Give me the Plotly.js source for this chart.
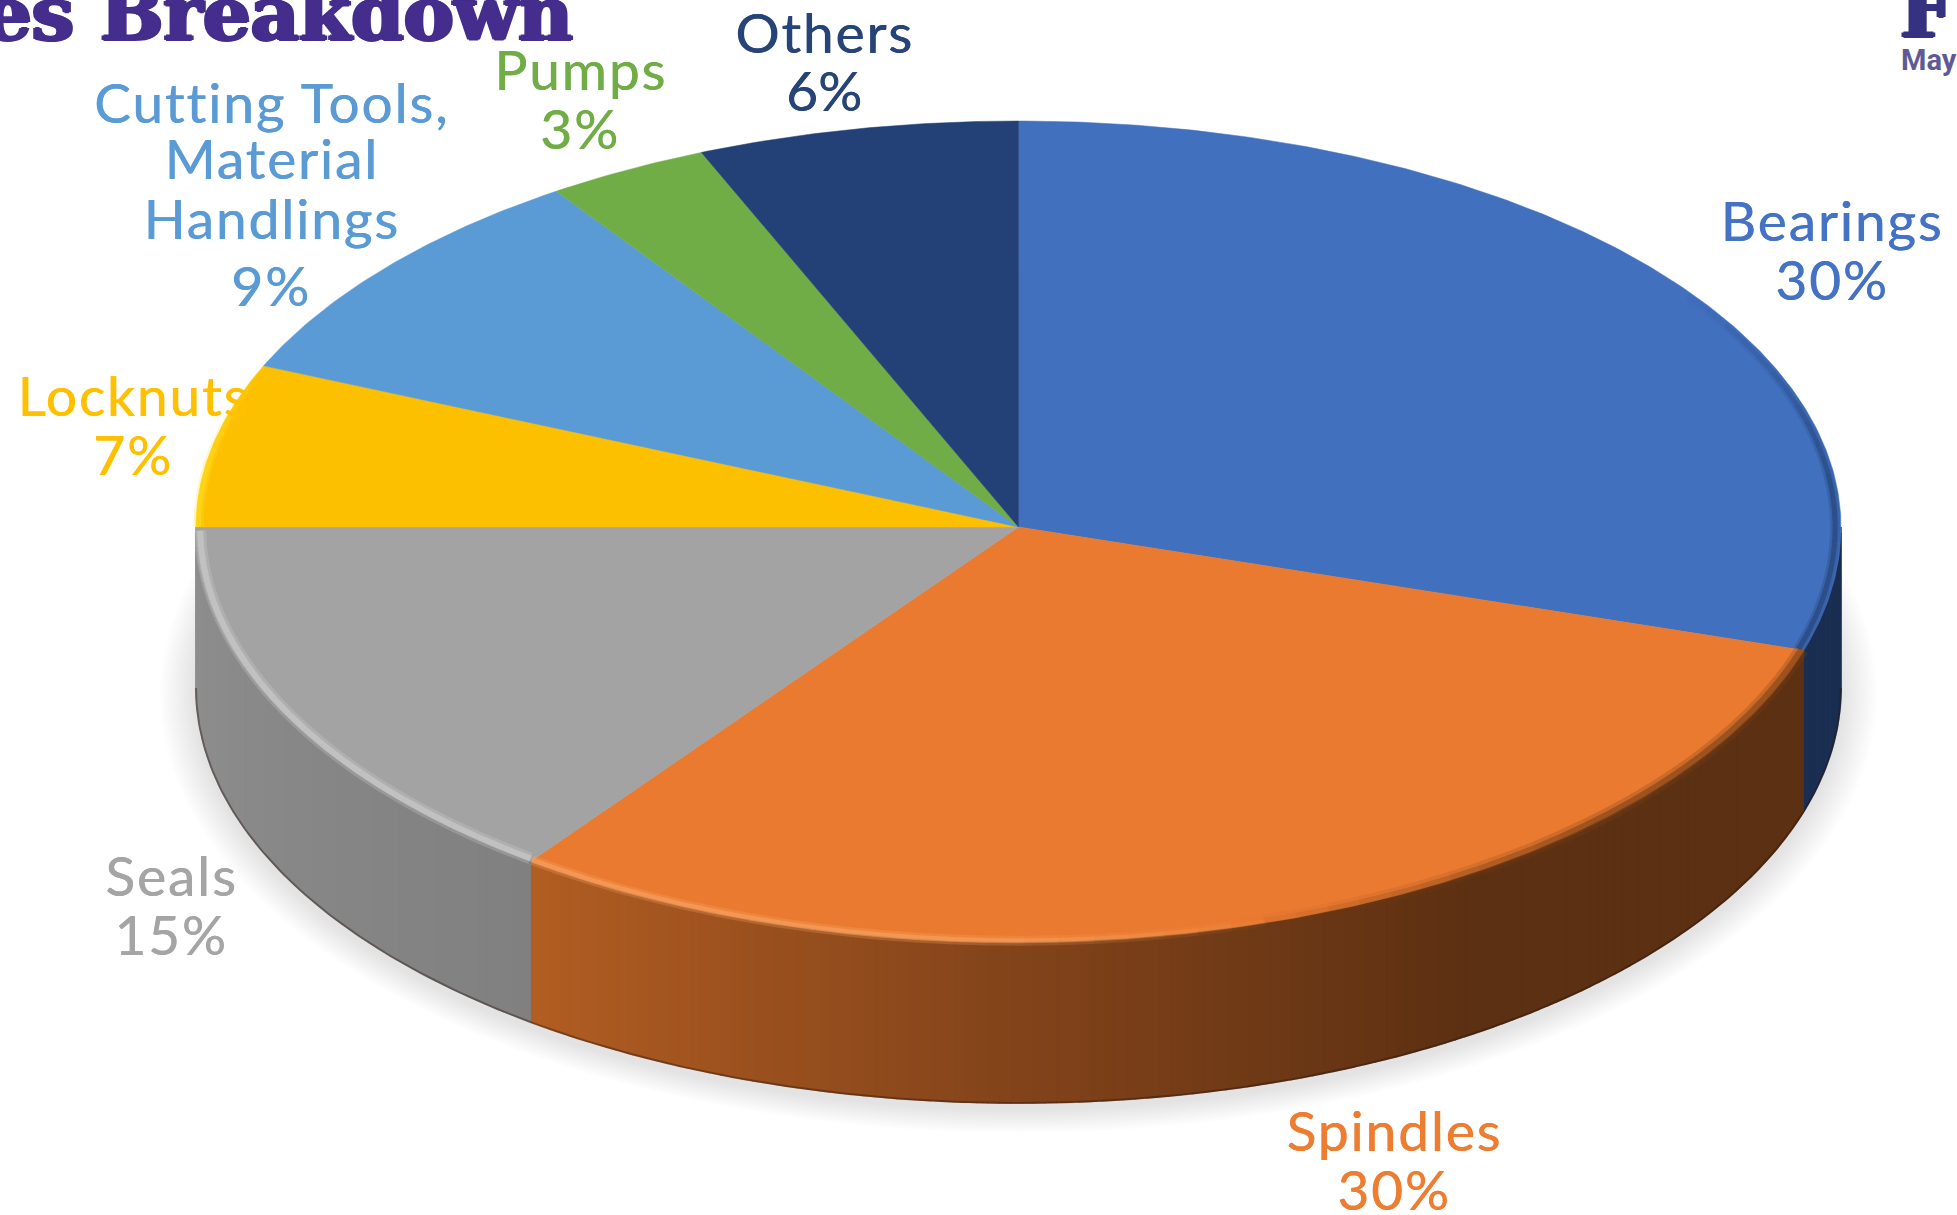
<!DOCTYPE html>
<html>
<head>
<meta charset="utf-8">
<script src="https://cdn.plot.ly/plotly-3.0.1.min.js"></script>
<style>
html,body{margin:0;padding:0;background:#fff;overflow:hidden}
#chart{width:1957px;height:1215px}
.annotation:nth-of-type(-n+16) .annotation-text{letter-spacing:1.9px}
</style>
</head>
<body>
<div id="chart"></div>
<script>
// Data (share of the pie, %)
const categories = ["Bearings", "Spindles", "Seals", "Locknuts", "Cutting Tools,<br>Material<br>Handlings", "Pumps", "Others"];
const shares = [29.8, 30.3, 14.9, 6.5, 9, 3.2, 6.3];

// Styles
const topColors = ["#4170BF", "#EA7A30", "#A3A3A3", "#FCC000", "#5B9BD5", "#70AD47", "#234176"];
const labelColors = ["#4472C4", "#ED7D31", "#A5A5A5", "#FFC000", "#5B9BD5", "#70AD47", "#264478"];
const labelX = [1832, 1394, 171, 133, 271, 580, 824];
const labelLineY = [[219.5, 278.5], [1129.5, 1188.5], [874.5, 933.5], [394.5, 453.5], [101.5, 157.5, 217.5, 284.5], [68.5, 127.5], [31.5, 89.5]];
const wallStops = [
  [[90, "#1A2E52"], [108, "#1A2E52"]],
  [[107, "#5C3012"], [147, "#5C3012"], [180, "#82431A"], [217, "#B35E22"]],
  [[216, "#808080"], [270, "#8F8F8F"]]
];
const rimHighlights = [
  {from: 55, to: 107.2, color: "#1F3A68", w: 5, op: 0.7, fadeA: 30, fadeB: 0, k: 0.993},
  {from: 107.2, to: 165, color: "#7A4018", w: 7, op: 0.8, fadeA: 0, fadeB: 30, k: 0.997},
  {from: 160, to: 216.4, color: "#FBA868", w: 5, op: 0.75, fadeA: 25, fadeB: 0, k: 0.997},
  {from: 216.6, to: 269.5, color: "#D2D2D2", w: 6, op: 0.75, fadeA: 0, fadeB: 0, k: 0.995},
  {from: 270, to: 293, color: "#FFDD22", w: 5, op: 0.8, fadeA: 0, fadeB: 15, k: 0.997}
];

// Geometry of the projected disc
const W = 1957, H = 1215, cx = 1018.5, cy = 527, rx = 822.5, ryBack = 406, ryFront = 415, depth = 161;
const rad = d => d * Math.PI / 180;
const px = (t, k = 1) => cx + k * rx * Math.sin(rad(t));
const py = (t, k = 1) => {
  const c = Math.cos(rad(t));
  return cy - k * c * (c > 0 ? ryBack : ryFront);
};
const hex = c => [1, 3, 5].map(i => parseInt(c.substr(i, 2), 16));
function mix(stops, t) {
  for (let i = 0; i < stops.length - 1; i++) {
    const [a, ca] = stops[i], [b, cb] = stops[i + 1];
    if (t <= b) {
      const f = Math.max(0, (t - a) / (b - a)), A = hex(ca), B = hex(cb);
      return "rgb(" + A.map((v, j) => Math.round(v + (B[j] - v) * f)).join(",") + ")";
    }
  }
  return stops[stops.length - 1][1];
}
function arc(a, b, k = 1, dy = 0) {
  const xs = [], ys = [], n = Math.max(2, Math.ceil(Math.abs(b - a) * 2));
  for (let i = 0; i <= n; i++) {
    const t = a + (b - a) * i / n;
    xs.push(px(t, k)); ys.push(py(t, k) + dy);
  }
  return [xs, ys];
}
const base = {type: "scatter", mode: "lines", hoverinfo: "skip", showlegend: false};
const traces = [];

// Soft shadow below the disc
for (let i = 0; i < 14; i++) {
  const g = 1 - i / 14, xs = [], ys = [];
  for (let t = 0; t <= 360; t += 2) {
    xs.push(cx + (rx + 36 * g) * Math.sin(rad(t)));
    ys.push(cy + depth + 6 - (ryFront + 24 * g) * Math.cos(rad(t)));
  }
  traces.push({...base, x: xs, y: ys, fill: "toself", fillcolor: "rgba(0,0,0,0.0095)", line: {width: 0}});
}

// Angles of the slices, from the values
const edges = [0];
const total = shares.reduce((a, b) => a + b, 0);
shares.forEach(v => edges.push(edges[edges.length - 1] + v / total * 360));

// Walls, front-facing part only, as thin shaded strips
categories.forEach((name, i) => {
  const a = Math.max(edges[i], 90), b = Math.min(edges[i + 1], 270);
  if (b <= a) return;
  const stops = wallStops[i], n = Math.ceil((b - a) / 0.8);
  for (let s = 0; s < n; s++) {
    const t0 = a + (b - a) * s / n, t1 = a + (b - a) * (s + 1) / n;
    const col = mix(stops, (t0 + t1) / 2);
    const [x1, y1] = arc(t0, t1), [x2, y2] = arc(t1, t0, 1, depth);
    traces.push({...base, x: x1.concat(x2), y: y1.concat(y2), fill: "toself", fillcolor: col, line: {color: col, width: 1.5}});
  }
  const [ex, ey] = arc(a, b, 1, depth);
  traces.push({...base, x: ex, y: ey, line: {color: "rgba(40,20,10,0.4)", width: 2}});
});

// Top faces
categories.forEach((name, i) => {
  const [ax, ay] = arc(edges[i], edges[i + 1]);
  traces.push({...base, name: name, x: [cx].concat(ax, [cx]), y: [cy].concat(ay, [cy]),
    fill: "toself", fillcolor: topColors[i], line: {color: topColors[i], width: 0.5}});
});

// Bevel along the rim, tapered towards its ends
rimHighlights.forEach(h => {
  const n = Math.ceil((h.to - h.from) / 2.5);
  for (let s = 0; s < n; s++) {
    const t0 = h.from + (h.to - h.from) * s / n, t1 = h.from + (h.to - h.from) * (s + 1) / n, m = (t0 + t1) / 2;
    let f = 1;
    if (h.fadeA) f = Math.min(f, (m - h.from) / h.fadeA);
    if (h.fadeB) f = Math.min(f, (h.to - m) / h.fadeB);
    const [hx, hy] = arc(t0, t1, h.k);
    traces.push({...base, x: hx, y: hy, opacity: h.op * 0.35 * f, line: {color: h.color, width: h.w * 2}});
    traces.push({...base, x: hx, y: hy, opacity: h.op * 0.7 * f, line: {color: h.color, width: h.w}});
  }
});

// Labels, one annotation per line of text
const annotations = [];
categories.forEach((name, i) => {
  const lines = name.split("<br>").concat([Math.round(shares[i]) + "%"]);
  lines.forEach((line, j) => annotations.push({
    xref: "x", yref: "y", x: labelX[i], y: labelLineY[i][j], xanchor: "center", yanchor: "middle",
    text: line, showarrow: false, align: "center",
    font: {family: "Lato", size: 55, color: labelColors[i], shadow: "0.6px 0 0 " + labelColors[i]}
  }));
});
const heading = {family: "DejaVu Serif", size: 75, weight: 900};
const thick = "2px 0 0 C, -2px 0 0 C, 0 1px 0 C, 0 -1px 0 C";
annotations.push(
  {xref: "paper", yref: "paper", x: 575 / W, y: 1 - 60 / H, xanchor: "right", yanchor: "bottom", showarrow: false,
   text: "es Breakdown", font: {...heading, color: "#442D8C", shadow: thick.replace(/C/g, "#442D8C")}},
  {xref: "paper", yref: "paper", x: 1898 / W, y: 1 - 57 / H, xanchor: "left", yanchor: "bottom", showarrow: false,
   text: "F", font: {...heading, color: "#35327F", shadow: thick.replace(/C/g, "#35327F")}},
  {xref: "paper", yref: "paper", x: 1899 / W, y: 1 - 60 / H, xanchor: "left", yanchor: "middle", showarrow: false,
   text: "May", font: {family: "Roboto", size: 29, weight: 700, color: "#5F5A96"}}
);

Plotly.newPlot("chart", traces, {
  width: W, height: H, margin: {l: 0, r: 0, t: 0, b: 0, pad: 0},
  paper_bgcolor: "#fff", plot_bgcolor: "#fff", showlegend: false,
  xaxis: {range: [0, W], visible: false, fixedrange: true},
  yaxis: {range: [H, 0], visible: false, fixedrange: true},
  annotations: annotations
}, {displayModeBar: false, staticPlot: true});
</script>
</body>
</html>
